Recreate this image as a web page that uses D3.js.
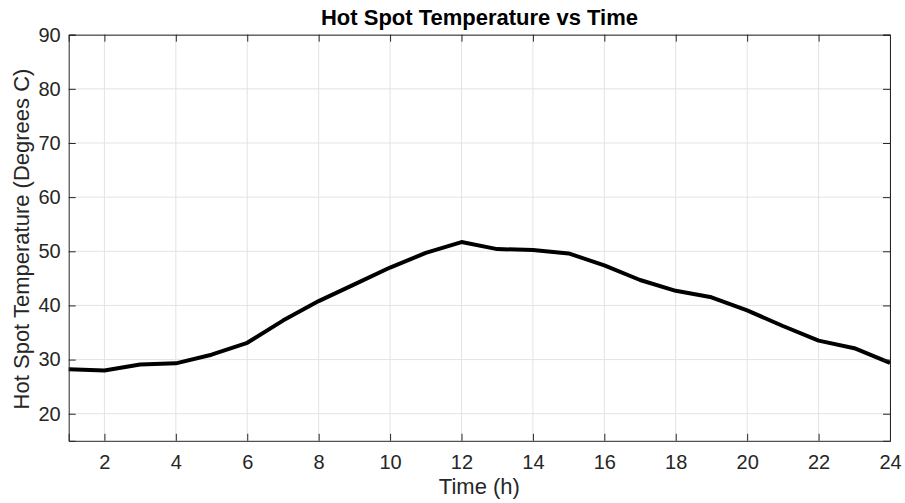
<!DOCTYPE html>
<html><head><meta charset="utf-8">
<script src="https://cdn.jsdelivr.net/npm/d3@7"></script>
<style>body{margin:0;background:#fff}svg{display:block}text{font-family:"Liberation Sans",Arial,sans-serif}</style>
</head><body><svg id="c" width="905" height="503"></svg>
<script>
const hours = [1,2,3,4,5,6,7,8,9,10,11,12,13,14,15,16,17,18,19,20,21,22,23,24];
const temps = [28.2,28.0,29.1,29.3,30.9,33.1,37.2,40.8,43.9,47.0,49.7,51.7,50.4,50.25,49.6,47.4,44.7,42.7,41.5,39.1,36.2,33.5,32.1,29.4];
const xTicks = [2,4,6,8,10,12,14,16,18,20,22,24];
const yTicks = [20,30,40,50,60,70,80,90];
const title = "Hot Spot Temperature vs Time";
const xLabel = "Time (h)";
const yLabel = "Hot Spot Temperature (Degrees C)";

const L=68.7, R=890, T=34.7, B=440.8;
const svg = d3.select("#c");
const x = d3.scaleLinear().domain([1,24]).range([L,R]);
const y = d3.scaleLinear().domain([15,90]).range([B,T]);
const ax="#262626";

// grid
svg.append("g").selectAll("line").data(xTicks).join("line")
  .attr("x1",d=>x(d)).attr("x2",d=>x(d)).attr("y1",T).attr("y2",B)
  .attr("stroke","#e3e3e3").attr("stroke-width",1);
svg.append("g").selectAll("line").data(yTicks).join("line")
  .attr("x1",L).attr("x2",R).attr("y1",d=>y(d)).attr("y2",d=>y(d))
  .attr("stroke","#e3e3e3").attr("stroke-width",1);

// line
svg.append("path").datum(hours.map((h,i)=>[h,temps[i]]))
  .attr("d",d3.line().x(d=>x(d[0])).y(d=>y(d[1])))
  .attr("fill","none").attr("stroke","#000").attr("stroke-width",4).attr("stroke-linejoin","round");

// axes
const fs="20px";
const xb = svg.append("g").attr("transform",`translate(0,${B})`)
  .call(d3.axisBottom(x).tickValues(xTicks).tickSize(-7).tickPadding(14).tickFormat(d3.format("d")));
const xt = svg.append("g").attr("transform",`translate(0,${T})`)
  .call(d3.axisTop(x).tickValues(xTicks).tickSize(-7).tickFormat(""));
const yl = svg.append("g").attr("transform",`translate(${L},0)`)
  .call(d3.axisLeft(y).tickValues(yTicks).tickSize(-7).tickPadding(8).tickFormat(d3.format("d")));
const yr = svg.append("g").attr("transform",`translate(${R},0)`)
  .call(d3.axisRight(y).tickValues(yTicks).tickSize(-7).tickFormat(""));
[xb,xt,yl,yr].forEach(g=>{
  g.select(".domain").attr("stroke",ax).attr("stroke-width",1);
  g.selectAll(".tick line").attr("stroke",ax);
  g.selectAll(".tick text").attr("fill",ax).style("font-size",fs).style("font-family",'"Liberation Sans",Arial,sans-serif');
});

svg.append("text").attr("x",479.5).attr("y",25).attr("text-anchor","middle")
  .style("font-size","22px").style("font-weight","bold").attr("fill","#000").text(title);
svg.append("text").attr("x",(L+R)/2).attr("y",494).attr("text-anchor","middle")
  .style("font-size","22px").attr("fill",ax).text(xLabel);
svg.append("text").attr("transform",`translate(29,239) rotate(-90)`).attr("text-anchor","middle")
  .style("font-size","22px").attr("fill",ax).text(yLabel);
</script></body></html>
